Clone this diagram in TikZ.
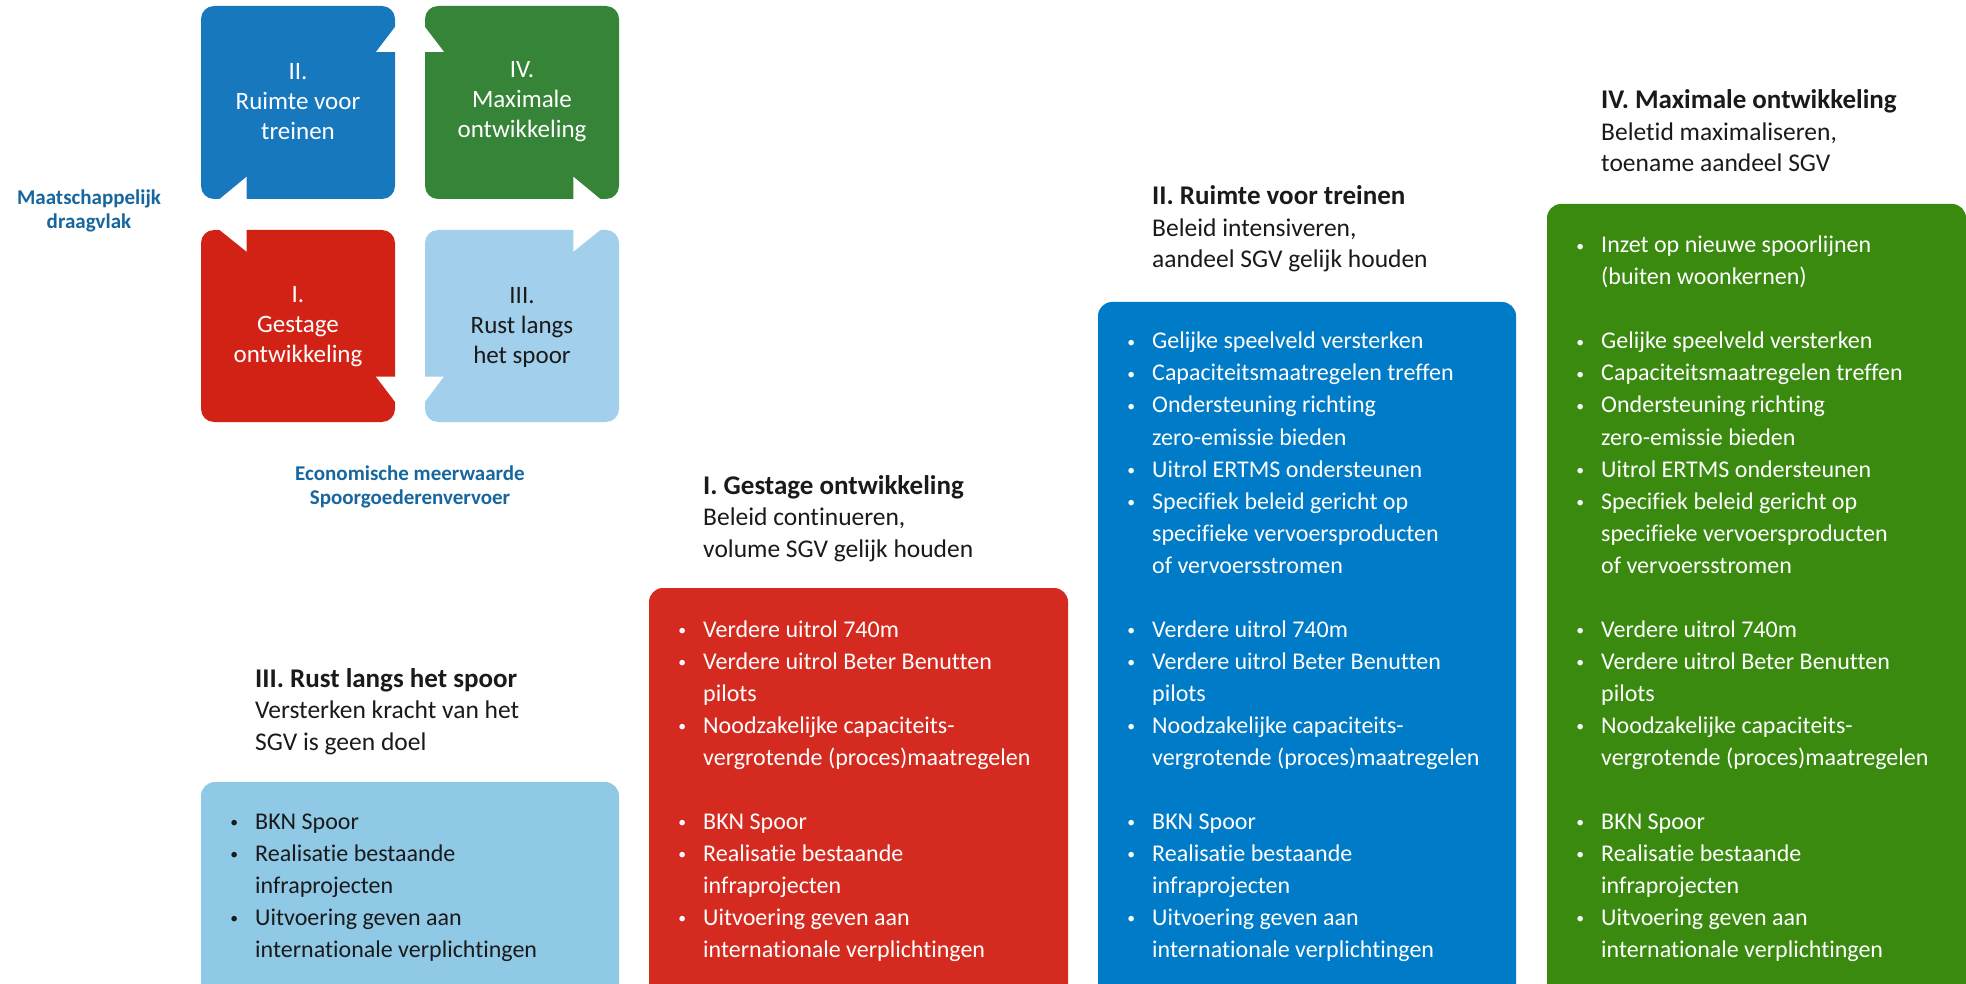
\documentclass[tikz,border=0pt]{standalone}
\usepackage{fontspec}
\setmainfont{Carlito}[Ligatures=NoCommon]
\usepackage{tikz}
\definecolor{sqII}{RGB}{24,120,190}
\definecolor{sqIV}{RGB}{54,132,55}
\definecolor{sqI}{RGB}{209,34,21}
\definecolor{sqIII}{RGB}{162,207,235}
\definecolor{bxIII}{RGB}{143,201,230}
\definecolor{bxI}{RGB}{212,42,31}
\definecolor{bxII}{RGB}{0,123,199}
\definecolor{bxIV}{RGB}{58,138,15}
\definecolor{axis}{RGB}{23,103,158}
\definecolor{ink}{RGB}{26,26,26}
\newcommand{\notch}[3]{\fill[white] #1 -- #2 -- #3 -- cycle;}
\newcommand{\dotmark}{\raisebox{1.8pt}{\scalebox{0.65}{\textbullet}}}
\newcommand{\bulrow}[5]{\node[row,text=#4] (#1) at (#2,253+32*#3) {\llap{\dotmark\hspace{17pt}}#5};}
\newcommand{\txtrow}[5]{\node[row,text=#4] (#1) at (#2,253+32*#3) {#5};}
\newcommand{\boxtitle}[6]{
    \node[ttl,font=\bfseries\fontsize{27}{30}\selectfont] (#1-t1) at (#2,#3) {#4};
    \node[ttl] (#1-t2) at (#2,#3+31.5) {#5};
    \node[ttl] (#1-t3) at (#2,#3+63) {#6};
}
\tikzset{
    sqtext/.style={align=center,inner sep=0,text=white,font=\fontsize{25}{30}\selectfont},
    axislabel/.style={align=center,inner sep=0,text=axis,font=\bfseries\fontsize{21}{24}\selectfont},
    row/.style={anchor=base west,inner sep=0,font=\fontsize{24}{32}\selectfont},
    ttl/.style={anchor=base west,inner sep=0,text=ink,font=\fontsize{25.5}{30}\selectfont}
}

\begin{document}
\begin{tikzpicture}[x=1pt,y=-1pt]
\useasboundingbox (0,0) rectangle (1966,984);
\fill[white] (0,0) rectangle (1966,984);
\fill[sqII,rounded corners=13pt] (201,6) rectangle (395,199);
    \notch{(396,25.7)}{(376,52)}{(396,52)}\notch{(246.7,176.7)}{(246.7,200)}{(218.5,200)}
\fill[sqIV,rounded corners=13pt] (425,6) rectangle (619,199);
    \notch{(424,25.7)}{(444,52)}{(424,52)}\notch{(573.3,176.7)}{(573.3,200)}{(601.5,200)}
\fill[sqI,rounded corners=13pt] (201,230) rectangle (395,422);
    \notch{(218.5,229)}{(246.7,229)}{(246.7,251.7)}\notch{(376,376.7)}{(396,376.7)}{(396,403)}
\fill[sqIII,rounded corners=13pt] (425,230) rectangle (619,422);
    \notch{(573.3,229)}{(601.5,229)}{(573.3,251.7)}\notch{(424,376.7)}{(443.7,376.7)}{(424,403)}
\node[sqtext] (qII) at (298,102) {II.\\Ruimte voor\\treinen};
\node[sqtext] (qIV) at (522,102) {IV.\\Maximale\\ontwikkeling};
\node[sqtext] (qI) at (298,327) {I.\\Gestage\\ontwikkeling};
\node[sqtext,text=ink] (qIII) at (522,327) {III.\\Rust langs\\het spoor};
\node[axislabel] (draagvlak) at (89,211) {Maatschappelijk\\draagvlak};
\node[axislabel] (meerwaarde) at (410,487) {Economische meerwaarde\\Spoorgoederenvervoer};

\fill[bxIII,rounded corners=14pt] (201,782) rectangle (619,998);
\fill[bxI,rounded corners=14pt] (649,588) rectangle (1068,998);
\fill[bxII,rounded corners=14pt] (1098,302) rectangle (1516,998);
\fill[bxIV,rounded corners=14pt] (1547,204) rectangle (1966,998);
\boxtitle{III}{255}{687}{III. Rust langs het spoor}{Versterken kracht van het}{SGV is geen doel}
\boxtitle{I}{703}{494}{I. Gestage ontwikkeling}{Beleid continueren,}{volume SGV gelijk houden}
\boxtitle{II}{1152}{205}{II. Ruimte voor treinen}{Beleid intensiveren,}{aandeel SGV gelijk houden}
\boxtitle{IV}{1601}{109}{IV. Maximale ontwikkeling}{Beletid maximaliseren,}{toename aandeel SGV}

\bulrow{IV-0}{1601}{0}{white}{Inzet op nieuwe spoorlijnen}
\txtrow{IV-1}{1601}{1}{white}{(buiten woonkernen)}
\foreach \bx/\nm in {1152/II,1601/IV}{
    \bulrow{\nm-3}{\bx}{3}{white}{Gelijke speelveld versterken}
    \bulrow{\nm-4}{\bx}{4}{white}{Capaciteitsmaatregelen treffen}
    \bulrow{\nm-5}{\bx}{5}{white}{Ondersteuning richting}
    \txtrow{\nm-6}{\bx}{6}{white}{zero-emissie bieden}
    \bulrow{\nm-7}{\bx}{7}{white}{Uitrol ERTMS ondersteunen}
    \bulrow{\nm-8}{\bx}{8}{white}{Specifiek beleid gericht op}
    \txtrow{\nm-9}{\bx}{9}{white}{specifieke vervoersproducten}
    \txtrow{\nm-10}{\bx}{10}{white}{of vervoersstromen}
}
\foreach \bx/\nm in {703/I,1152/II,1601/IV}{
    \bulrow{\nm-12}{\bx}{12}{white}{Verdere uitrol 740m}
    \bulrow{\nm-13}{\bx}{13}{white}{Verdere uitrol Beter Benutten}
    \txtrow{\nm-14}{\bx}{14}{white}{pilots}
    \bulrow{\nm-15}{\bx}{15}{white}{Noodzakelijke capaciteits-}
    \txtrow{\nm-16}{\bx}{16}{white}{vergrotende (proces)maatregelen}
}
\foreach \bx/\nm/\tc in {255/III/ink,703/I/white,1152/II/white,1601/IV/white}{
    \bulrow{\nm-18}{\bx}{18}{\tc}{BKN Spoor}
    \bulrow{\nm-19}{\bx}{19}{\tc}{Realisatie bestaande}
    \txtrow{\nm-20}{\bx}{20}{\tc}{infraprojecten}
    \bulrow{\nm-21}{\bx}{21}{\tc}{Uitvoering geven aan}
    \txtrow{\nm-22}{\bx}{22}{\tc}{internationale verplichtingen}
}
\end{tikzpicture}
\end{document}
